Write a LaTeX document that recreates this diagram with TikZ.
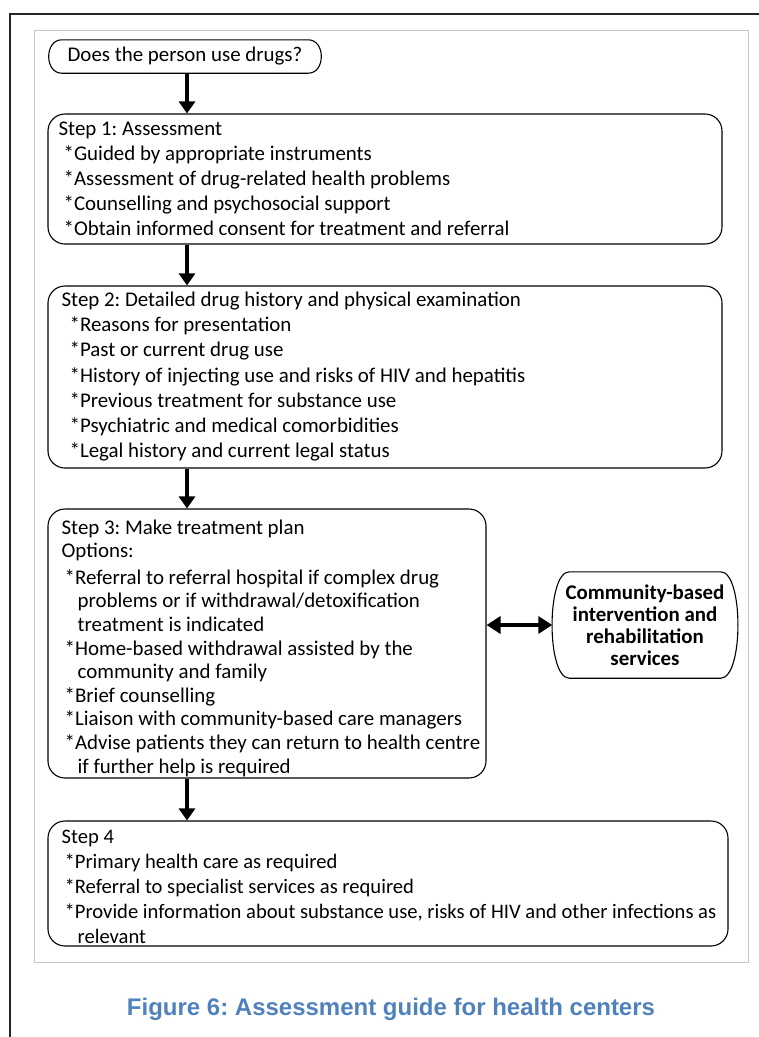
\documentclass[tikz,border=0pt]{standalone}
\usepackage{fontspec}
\setmainfont{Carlito}
\newfontfamily\capfont{Liberation Sans}
\usetikzlibrary{arrows.meta}
\definecolor{capblue}{HTML}{4F81BD}
\definecolor{framegray}{HTML}{C4C4C4}
\frenchspacing
\tikzset{
  stepbox/.style={draw, line width=1.1pt, rounded corners=17pt, inner sep=0pt},
  steptext/.style={align=left, inner sep=0pt, anchor=north west,
    font=\fontsize{20.9}{25}\selectfont},
  arr/.style={line width=4.5pt, -{Triangle[width=16pt,length=12pt]}},
  dblarr/.style={line width=4.5pt, {Triangle[width=17pt,length=14pt]}-{Triangle[width=17pt,length=14pt]}}
}
\newcommand{\bul}[1][3pt]{\hspace*{#1}*}
\newcommand{\cont}{\hspace*{16pt}}
% outline with rounded, outward-bulging ends round a named node
\newcommand{\capsule}[3]{%
  \draw[line width=1.1pt] ([xshift=#2]#1.north west) -- ([xshift=-#2]#1.north east)
    .. controls ([xshift=#3]#1.north east) and ([xshift=#3]#1.south east) .. ([xshift=-#2]#1.south east)
    -- ([xshift=#2]#1.south west)
    .. controls ([xshift=-#3]#1.south west) and ([xshift=-#3]#1.north west) .. cycle;}
\begin{document}
\begin{tikzpicture}[x=1pt, y=-1pt]
  \useasboundingbox (0,0) rectangle (759,1037);
  % page frame and figure frame
  \draw[line width=2.5pt, black!85] (10,1037) -- (10,14) -- (759,14);
  \draw[framegray, line width=1pt] (34,30) rectangle (748,962);
  % start question
  \node[minimum width=272pt, minimum height=33pt, inner sep=0pt,
    font=\fontsize{20.9}{25}\selectfont] (start) at (185,56.5) {Does the person use drugs?};
  \capsule{start}{13pt}{4.5pt}
  % step boxes
  \node[stepbox, minimum width=674pt, minimum height=130pt] (s1) at (385,179) {};
  \node[steptext] (s1t) at ([xshift=11pt, yshift=-8pt]s1.north west)
    {Step 1: Assessment\\
     \bul[5pt]Guided by appropriate instruments\\
     \bul[5pt]Assessment of drug-related health problems\\
     \bul[5pt]Counselling and psychosocial support\\
     \bul[5pt]Obtain informed consent for treatment and referral};
  \node[stepbox, minimum width=674pt, minimum height=182pt] (s2) at (385,377) {};
  \node[steptext, font=\fontsize{20.9}{25.3}\selectfont] (s2t) at ([xshift=14pt, yshift=-6pt]s2.north west)
    {Step 2: Detailed drug history and physical examination\\
     \bul[8pt]Reasons for presentation\\
     \bul[8pt]Past or current drug use\\
     \bul[8pt]History of injecting use and risks of HIV and hepatitis\\
     \bul[8pt]Previous treatment for substance use\\
     \bul[8pt]Psychiatric and medical comorbidities\\
     \bul[8pt]Legal history and current legal status};
  \node[stepbox, minimum width=438pt, minimum height=269pt] (s3) at (267,643.5) {};
  \node[steptext, font=\fontsize{20.9}{23.6}\selectfont] (s3t) at ([xshift=14pt, yshift=-11pt]s3.north west)
    {Step 3: Make treatment plan\\
     Options:\\[3pt]
     \bul Referral to referral hospital if complex drug\\
     \cont problems or if withdrawal/detoxification\\
     \cont treatment is indicated\\
     \bul Home-based withdrawal assisted by the\\
     \cont community and family\\
     \bul Brief counselling\\
     \bul Liaison with community-based care managers\\
     \bul Advise patients they can return to health centre\\
     \cont if further help is required};
  \node[stepbox, minimum width=680pt, minimum height=125pt] (s4) at (388,883.5) {};
  \node[steptext, font=\fontsize{20.6}{25}\selectfont] (s4t) at ([xshift=14pt, yshift=-9pt]s4.north west)
    {Step 4\\
     \bul Primary health care as required\\
     \bul Referral to specialist services as required\\
     \bul Provide information about substance use, risks of HIV and other infections as\\
     \cont relevant};
  % side box
  \node[align=center, inner sep=0pt, minimum width=185pt, minimum height=106pt,
    font=\fontsize{20.9}{22}\selectfont\bfseries] (comm) at (645,625)
    {Community-based\\intervention and\\rehabilitation\\services};
  \capsule{comm}{17pt}{6pt}
  % connectors
  \draw[arr] (start.south -| 187,0) -- (s1.north -| 187,0);
  \draw[arr] (s1.south -| 187,0) -- (s2.north -| 187,0);
  \draw[arr] (s2.south -| 187,0) -- (s3.north -| 187,0);
  \draw[arr] (s3.south -| 187,0) -- (s4.north -| 187,0);
  \draw[dblarr] (s3.east |- comm.west) -- (comm.west);
  % caption
  \node[font=\capfont\bfseries\fontsize{24}{28}\selectfont, text=capblue] (cap) at (391,1009)
    {Figure 6: Assessment guide for health centers};
\end{tikzpicture}
\end{document}
